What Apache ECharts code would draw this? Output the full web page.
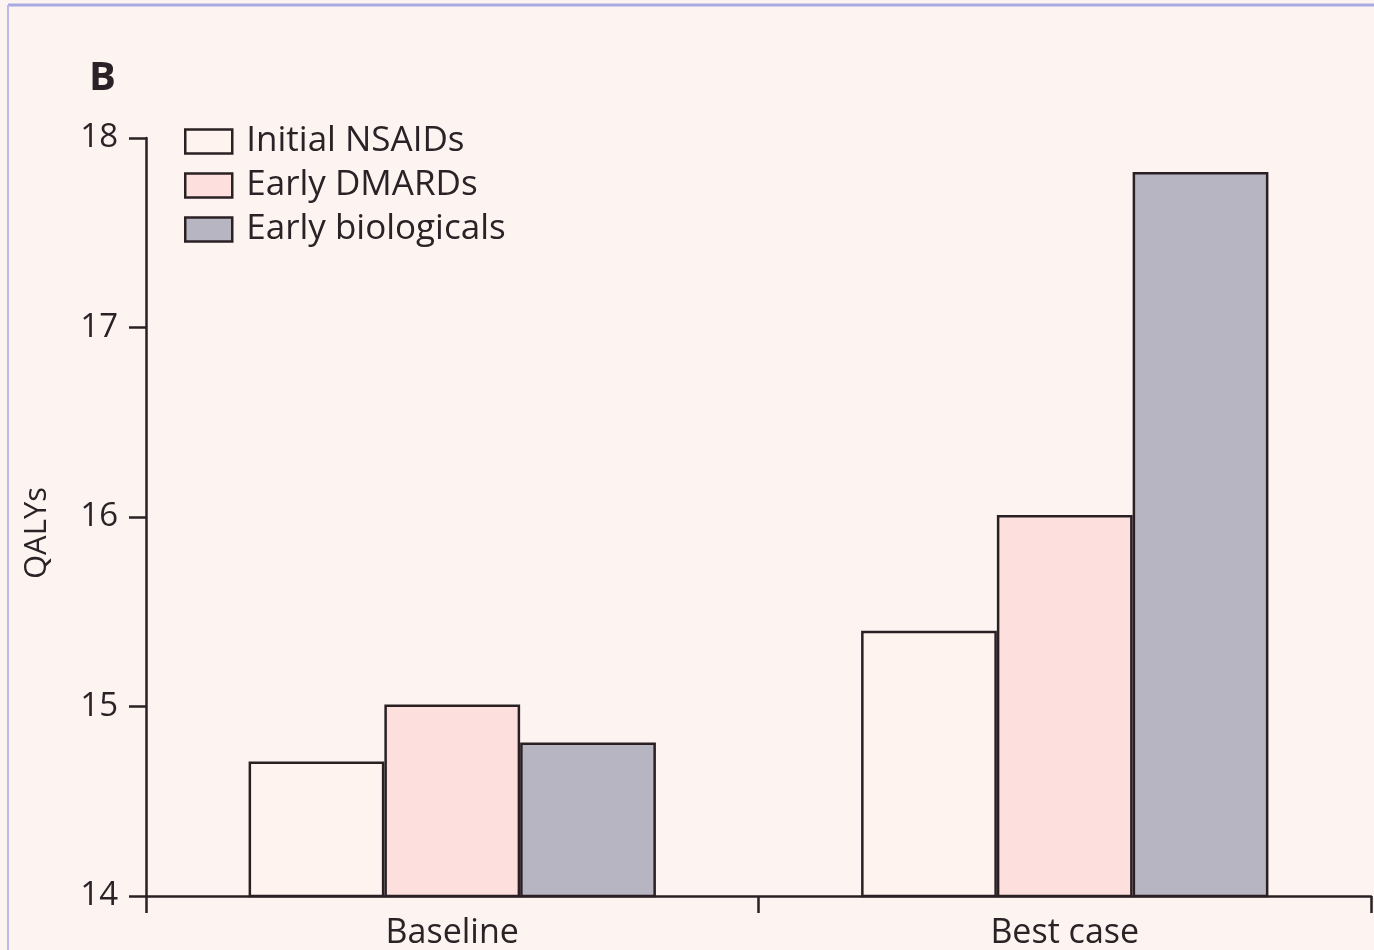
<!DOCTYPE html>
<html><head><meta charset="utf-8">
<script src="https://cdn.jsdelivr.net/npm/echarts@6/dist/echarts.min.js"></script>
<style>html,body{margin:0;padding:0;background:#fdf4f1;}#c{width:1374px;height:950px;}</style>
</head><body><div id="c"></div>
<script>
const categories = ['Baseline', 'Best case'];
const seriesNames = ['Initial NSAIDs', 'Early DMARDs', 'Early biologicals'];
const initialNSAIDs = [14.71, 15.40];
const earlyDMARDs = [15.01, 16.01];
const earlyBiologicals = [14.81, 17.82];
const yTicks = [14, 15, 16, 17, 18];
const yAxisTitle = 'QALYs';
const panelLabel = 'B';

const fillColors = ['#fff3ef', '#fde0dd', '#b8b5c2'];
const font = 'Open Sans';
const ink = '#2a2024';
const textColor = '#2a2226';
const dataSets = [initialNSAIDs, earlyDMARDs, earlyBiologicals];

const chart = echarts.init(document.getElementById('c'));
chart.setOption({
  backgroundColor: '#fdf4f1',
  animation: false,
  title: {
    text: panelLabel, left: 84, top: 54,
    textStyle: {fontFamily: font, fontWeight: 'bold', fontSize: 40, color: textColor}
  },
  legend: {
    orient: 'vertical', left: 179, top: 119,
    itemWidth: 47, itemHeight: 24, itemGap: 9,
    icon: 'rect',
    itemStyle: {borderColor: ink, borderWidth: 2.5},
    textStyle: {fontFamily: font, fontSize: 35, color: textColor, padding: [0,0,0,9]},
    data: seriesNames
  },
  grid: {left: 146, right: 3, top: 138, bottom: 52, containLabel: false},
  xAxis: {
    type: 'category', data: categories,
    axisLine: {lineStyle: {color: ink, width: 2.5}},
    axisTick: {show: true, length: 17, lineStyle: {color: ink, width: 2.5}},
    axisLabel: {fontFamily: font, fontSize: 34, color: textColor, margin: 20}
  },
  yAxis: {
    type: 'value', min: yTicks[0], max: yTicks[yTicks.length-1], interval: 1,
    axisLine: {show: true, lineStyle: {color: ink, width: 2.5}},
    axisTick: {show: true, length: 17, lineStyle: {color: ink, width: 2.5}},
    splitLine: {show: false},
    axisLabel: {fontFamily: font, fontSize: 33, color: textColor, margin: 28}
  },
  series: seriesNames.map((n, i) => ({
    name: n, type: 'bar', data: dataSets[i],
    barGap: '0%', barCategoryGap: '33.5%',
    itemStyle: {color: fillColors[i], borderColor: ink, borderWidth: 2.5}
  })),
  graphic: [
    {type: 'line', shape: {x1: 8, y1: 5, x2: 1374, y2: 5}, style: {stroke: '#a9a9e2', lineWidth: 3}, silent: true},
    {type: 'line', shape: {x1: 8, y1: 5, x2: 8, y2: 950}, style: {stroke: '#b9b9ea', lineWidth: 2}, silent: true},
    {type: 'text', x: 37, y: 533, rotation: Math.PI / 2,
     style: {text: yAxisTitle, fontFamily: font, fontSize: 31, fill: textColor, align: 'center', verticalAlign: 'middle'}, silent: true}
  ]
});
</script></body></html>
